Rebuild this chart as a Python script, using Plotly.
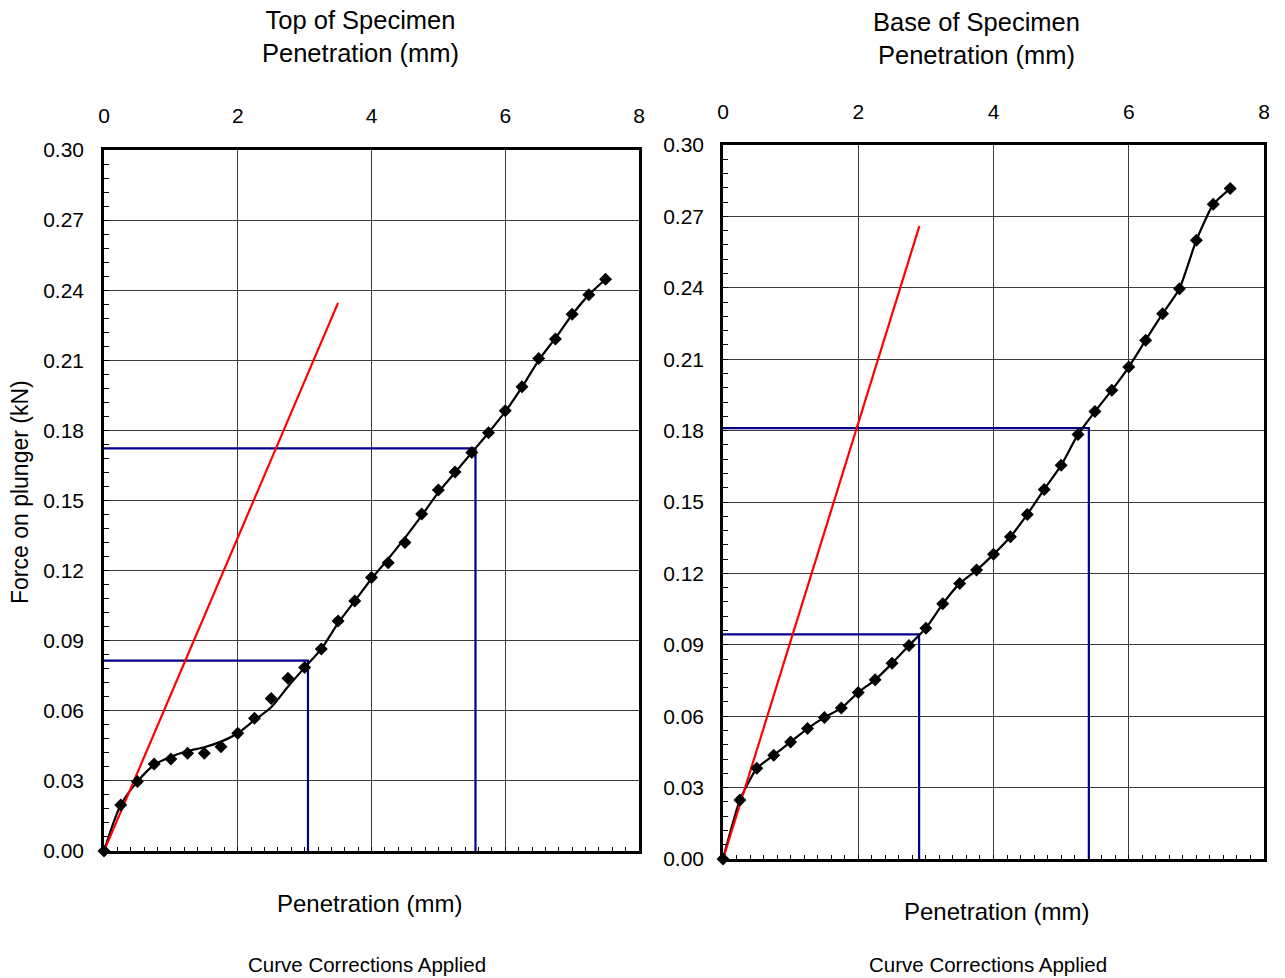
import plotly.graph_objects as go

# ---------------- data ----------------
pen = [0, 0.25, 0.5, 0.75, 1.0, 1.25, 1.5, 1.75, 2.0, 2.25, 2.5, 2.75, 3.0,
       3.25, 3.5, 3.75, 4.0, 4.25, 4.5, 4.75, 5.0, 5.25, 5.5, 5.75, 6.0,
       6.25, 6.5, 6.75, 7.0, 7.25, 7.5]

top_force = [0, 0.0197, 0.0297, 0.0372, 0.0394, 0.0418, 0.0418, 0.0446, 0.0504,
             0.0568, 0.0653, 0.0739, 0.0785, 0.0865, 0.0984, 0.1070, 0.1170,
             0.1234, 0.1320, 0.1442, 0.1545, 0.1622, 0.1705, 0.1790, 0.1884,
             0.1987, 0.2108, 0.2191, 0.2297, 0.2380, 0.2447]

top_curve = [0, 0.0197, 0.0297, 0.0368, 0.0403, 0.0428, 0.0444, 0.0468, 0.0504,
             0.0560, 0.0615, 0.0703, 0.0785, 0.0865, 0.0975, 0.1070, 0.1165,
             0.1250, 0.1340, 0.1435, 0.1535, 0.1620, 0.1705, 0.1790, 0.1880,
             0.1985, 0.2100, 0.2195, 0.2295, 0.2380, 0.2447]

base_force = [0, 0.0248, 0.0381, 0.0436, 0.0492, 0.0548, 0.0595, 0.0634, 0.0700,
              0.0753, 0.0822, 0.0897, 0.0970, 0.1072, 0.1158, 0.1214, 0.1280,
              0.1354, 0.1448, 0.1553, 0.1654, 0.1784, 0.1880, 0.1970, 0.2067,
              0.2180, 0.2291, 0.2396, 0.2600, 0.2751, 0.2817]

top_tangent_x = [0, 3.5]
top_tangent_y = [0, 0.2346]
base_tangent_x = [0, 2.905]
base_tangent_y = [0, 0.266]

top_read_x = [3.05, 5.555]
top_read_y = [0.0815, 0.1723]
base_read_x = [2.90, 5.41]
base_read_y = [0.0944, 0.181]

x_ticks = [0, 2, 4, 6, 8]
y_ticks = [0.00, 0.03, 0.06, 0.09, 0.12, 0.15, 0.18, 0.21, 0.24, 0.27, 0.30]

# ---------------- layout helpers ----------------
W, H = 1285, 978
FONT = "Liberation Sans, Arial, sans-serif"
GRID = "#3c3c3c"
NAVY = "#00008b"


def px_x(p):
    return p / W


def px_y(p):
    return 1 - p / H


fig = go.Figure()


def add_panel(xa, ya, xa_top, force, curve, tx, ty, rx, ry, curve_shape, smooth):
    xref = "x" if xa == 1 else f"x{xa}"
    yref = "y" if ya == 1 else f"y{ya}"
    for vx, vy in zip(rx, ry):
        fig.add_trace(go.Scatter(x=[0, vx, vx], y=[vy, vy, 0], mode="lines",
                                 line=dict(color=NAVY, width=2.2), xaxis=xref,
                                 yaxis=yref, showlegend=False, hoverinfo="skip"))
    fig.add_trace(go.Scatter(x=pen, y=curve, mode="lines",
                             line=dict(color="black", width=2.2, shape=curve_shape,
                                       smoothing=smooth),
                             xaxis=xref, yaxis=yref, showlegend=False))
    fig.add_trace(go.Scatter(x=tx, y=ty, mode="lines",
                             line=dict(color="#ff0000", width=2.2),
                             xaxis=xref, yaxis=yref, showlegend=False))
    fig.add_trace(go.Scatter(x=pen, y=force, mode="markers",
                             marker=dict(symbol="diamond", size=10, color="black"),
                             xaxis=xref, yaxis=yref, showlegend=False,
                             cliponaxis=False))
    fig.add_trace(go.Scatter(x=[None], y=[None], xaxis=f"x{xa_top}", yaxis=yref,
                             showlegend=False, hoverinfo="skip"))


add_panel(1, 1, 3, top_force, top_curve, top_tangent_x, top_tangent_y,
          top_read_x, top_read_y, "spline", 0.8)
add_panel(2, 2, 4, base_force, base_force, base_tangent_x, base_tangent_y,
          base_read_x, base_read_y, "spline", 0.5)


def xaxis_bottom(dom, anchor):
    return dict(domain=dom, range=[0, 8], anchor=anchor, tickvals=x_ticks,
                showticklabels=False, showgrid=True, gridcolor=GRID, gridwidth=1,
                showline=True, linecolor="black", linewidth=2.5, mirror=True,
                ticks="inside", ticklen=4, tickcolor="black", tickwidth=1,
                minor=dict(dtick=0.2, ticks="inside", ticklen=4, tickcolor="black",
                           tickwidth=1, showgrid=False),
                zeroline=False, fixedrange=True, automargin=False)


def xaxis_top(over, anchor, standoff):
    return dict(overlaying=over, anchor=anchor, side="top", range=[0, 8],
                tickvals=x_ticks, ticktext=[str(v) for v in x_ticks],
                showgrid=False, showline=False, ticks="", zeroline=False,
                tickfont=dict(size=21, color="black", family=FONT),
                ticklabelstandoff=standoff, fixedrange=True, automargin=False)


def yaxis(dom, anchor, standoff):
    return dict(domain=dom, range=[0, 0.30], anchor=anchor, tickvals=y_ticks,
                tickformat=".2f", showgrid=True, gridcolor=GRID, gridwidth=1,
                showline=True, linecolor="black", linewidth=2.5, mirror=True,
                ticks="inside", ticklen=5, tickcolor="black", tickwidth=1,
                minor=dict(dtick=0.006, ticks="inside", ticklen=5, tickcolor="black",
                           tickwidth=1, showgrid=False),
                tickfont=dict(size=21, color="black", family=FONT),
                ticklabelstandoff=standoff, zeroline=False, fixedrange=True,
                automargin=False)


fig.update_layout(
    width=W, height=H, autosize=False,
    margin=dict(l=0, r=0, t=0, b=0, autoexpand=False),
    paper_bgcolor="white", plot_bgcolor="white",
    font=dict(family=FONT, color="black"),
    showlegend=False,
    xaxis=xaxis_bottom([px_x(104), px_x(639)], "y"),
    yaxis=yaxis([px_y(851), px_y(150)], "x", 13),
    xaxis2=xaxis_bottom([px_x(723), px_x(1264)], "y2"),
    yaxis2=yaxis([px_y(859), px_y(145)], "x2", 12),
    xaxis3=xaxis_top("x", "y", 22),
    xaxis4=xaxis_top("x2", "y2", 21),
)

ann = [
    ("Top of Specimen<br>Penetration (mm)", 360, 36, 25.5, 0),
    ("Base of Specimen<br>Penetration (mm)", 976, 39, 25.5, 0),
    ("Penetration (mm)", 369, 903, 24, 0),
    ("Penetration (mm)", 996, 911, 24, 0),
    ("Curve Corrections Applied", 367, 964.5, 20.5, 0),
    ("Curve Corrections Applied", 988, 964.5, 20.5, 0),
    ("Force on plunger (kN)", 20, 492, 23, -90),
]
for text, x, y, size, ang in ann:
    fig.add_annotation(text=text, x=px_x(x), y=px_y(y), xref="paper", yref="paper",
                       xanchor="center", yanchor="middle", showarrow=False,
                       textangle=ang, borderpad=0,
                       font=dict(size=size, color="black", family=FONT))

# remove the browser's default body margin so the figure fills the window exactly
fig.write_html("out.html",
               config={"displayModeBar": False},
               post_script="document.body.style.margin='0';"
                           "document.body.style.overflow='hidden';")
